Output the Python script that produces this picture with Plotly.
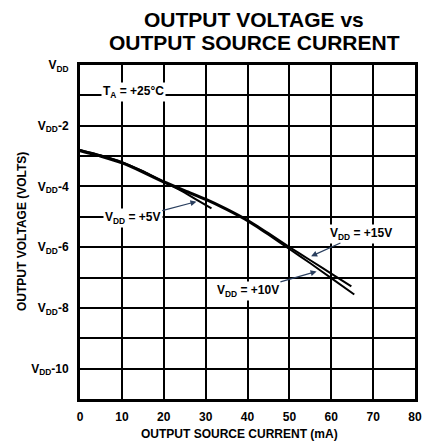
import plotly.graph_objects as go

# ---- data ----
current_15v = [0, 5, 10, 15, 20, 25, 30, 35, 40, 45, 50, 55, 60, 64.8]
vout_15v = [-2.80, -2.98, -3.20, -3.50, -3.83, -4.12, -4.40, -4.73, -5.10, -5.54, -6.00, -6.43, -6.87, -7.29]

current_10v = [0, 5, 10, 15, 20, 25, 30, 35, 40, 45, 50, 55, 60, 65.5]
vout_10v = [-2.84, -3.02, -3.24, -3.54, -3.87, -4.16, -4.44, -4.77, -5.14, -5.59, -6.06, -6.53, -7.02, -7.56]

current_5v = [0, 5, 10, 15, 20, 22.5, 25, 28, 31.4]
vout_5v = [-2.80, -2.98, -3.20, -3.50, -3.85, -4.02, -4.20, -4.45, -4.72]

x_tick_vals = [0, 10, 20, 30, 40, 50, 60, 70, 80]
x_tick_text = ["0", "10", "20", "30", "40", "50", "60", "70", "80"]
y_tick_vals = [0, -2, -4, -6, -8, -10]
y_tick_text = ["V<sub>DD</sub>", "V<sub>DD</sub>-2", "V<sub>DD</sub>-4",
               "V<sub>DD</sub>-6", "V<sub>DD</sub>-8", "V<sub>DD</sub>-10"]
y_minor_grid = [-1, -3, -5, -7, -9]

FONT = "Liberation Sans, Arial, Helvetica, sans-serif"

fig = go.Figure()
for xs, ys in [(current_15v, vout_15v), (current_10v, vout_10v), (current_5v, vout_5v)]:
    fig.add_trace(go.Scatter(x=xs, y=ys, mode="lines",
                             line=dict(color="black", width=2, shape="spline", smoothing=0.3),
                             showlegend=False, hoverinfo="skip"))

# page body has an 8px default margin, so the figure is 8px smaller
fig.update_layout(
    width=425, height=437,
    margin=dict(l=72, r=18, t=57, b=46),
    paper_bgcolor="white", plot_bgcolor="white",
    font=dict(family=FONT, color="black", size=12),
)
fig.update_xaxes(range=[0, 80], tickvals=x_tick_vals, ticktext=["<b>%s</b>" % t for t in x_tick_text],
                 showgrid=True, gridcolor="black", gridwidth=1.5,
                 showline=True, linecolor="black", linewidth=3, mirror=True,
                 ticks="", zeroline=False, ticklabelstandoff=5,
                 tickfont=dict(family=FONT, size=12, color="black"))
fig.update_yaxes(range=[-11, 0], tickvals=y_tick_vals,
                 ticktext=["<b>%s</b>" % t for t in y_tick_text],
                 showgrid=True, gridcolor="black", gridwidth=1.5,
                 minor=dict(tickvals=y_minor_grid, showgrid=True, gridcolor="black", gridwidth=1.5, ticks=""),
                 showline=True, linecolor="black", linewidth=3, mirror=True,
                 ticks="", zeroline=False, ticklabelstandoff=6,
                 tickfont=dict(family=FONT, size=12, color="black"))

# titles
fig.add_annotation(text="<b>OUTPUT VOLTAGE vs</b>", xref="paper", yref="paper",
                   x=0.52, y=1.0, yshift=45.5, xanchor="center", yanchor="middle",
                   showarrow=False, font=dict(family=FONT, size=21, color="black"))
fig.add_annotation(text="<b>OUTPUT SOURCE CURRENT</b>", xref="paper", yref="paper",
                   x=0.52, y=1.0, yshift=22.5, xanchor="center", yanchor="middle",
                   showarrow=False, font=dict(family=FONT, size=21, color="black"))
fig.add_annotation(text="<b>OUTPUT SOURCE CURRENT (mA)</b>", xref="paper", yref="paper",
                   x=0.475, y=0, yshift=-35, xanchor="center", yanchor="middle",
                   showarrow=False, font=dict(family=FONT, size=12, color="black"))
fig.add_annotation(text="<b>OUTPUT VOLTAGE (VOLTS)</b>", xref="paper", yref="paper",
                   x=0, xshift=-58, y=0.5, xanchor="center", yanchor="middle", textangle=-90,
                   showarrow=False, font=dict(family=FONT, size=12, color="black"))

lab_font = dict(family=FONT, size=12, color="black")
fig.add_annotation(text="<b>T<sub>A</sub> = +25°C</b>", x=12.7, y=-0.9, showarrow=False,
                   bgcolor="white", font=lab_font)
fig.add_annotation(text="<b>V<sub>DD</sub> = +5V</b>", x=27.8, y=-4.5, ax=12.6, ay=-5.05,
                   axref="x", ayref="y", showarrow=True, arrowhead=2, arrowsize=1, arrowwidth=1.2,
                   bgcolor="white", font=lab_font)
fig.add_annotation(text="<b>V<sub>DD</sub> = +15V</b>", x=55.2, y=-6.3, ax=67.2, ay=-5.55,
                   axref="x", ayref="y", showarrow=True, arrowhead=2, arrowsize=1, arrowwidth=1.2,
                   bgcolor="white", font=lab_font)
fig.add_annotation(text="<b>V<sub>DD</sub> = +10V</b>", x=56.5, y=-6.8, ax=40.1, ay=-7.45,
                   axref="x", ayref="y", showarrow=True, arrowhead=2, arrowsize=1, arrowwidth=1.2,
                   bgcolor="white", font=lab_font)

fig.write_html("out.html")
